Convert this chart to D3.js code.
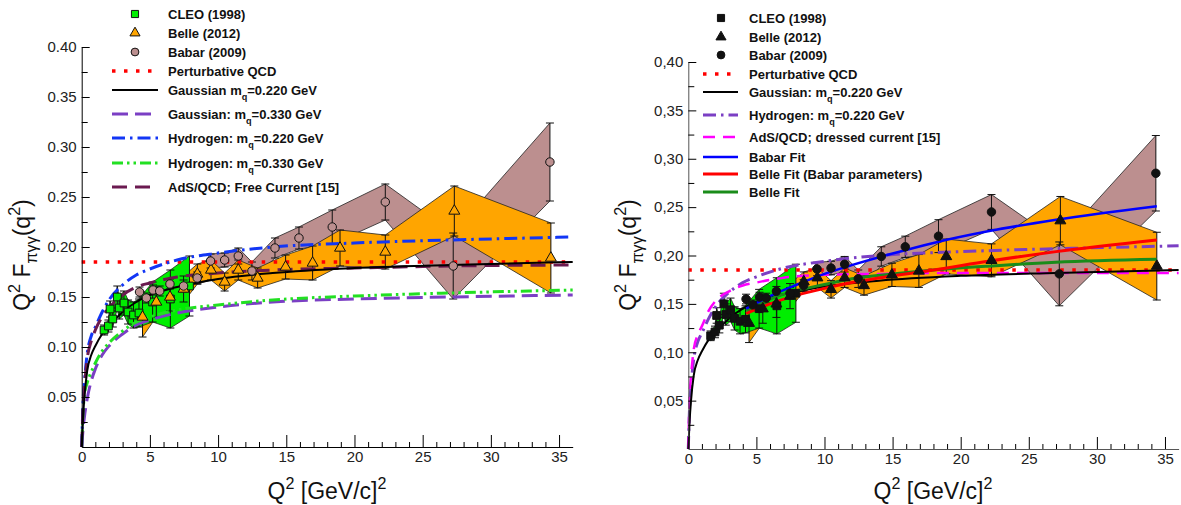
<!DOCTYPE html>
<html>
<head>
<meta charset="utf-8">
<script src="https://cdn.jsdelivr.net/npm/d3@7"></script>
<style>
body { margin: 0; background: #fff; }
text { font-family: Arial, "Liberation Sans", sans-serif; }
</style>
</head>
<body>
<svg id="chart" width="1181" height="505"></svg>
<script>
// ---- data (Q^2 in GeV^2, Q^2 F in GeV) ----
var cleoQ2  = [1.64, 1.96, 2.08, 2.28, 2.61, 2.75, 3.10, 3.40, 3.80, 4.20, 5.20, 6.50, 7.90];
var cleoF   = [0.117, 0.121, 0.138, 0.128, 0.150, 0.139, 0.144, 0.135, 0.132, 0.134, 0.145, 0.148, 0.161];
var cleoErr = [0.005, 0.006, 0.008, 0.008, 0.011, 0.011, 0.012, 0.012, 0.013, 0.014, 0.020, 0.029, 0.030];

var belleQ2  = [4.46, 5.47, 6.47, 7.47, 8.48, 9.48, 10.48, 11.48, 12.90, 14.95, 16.93, 18.94, 22.26, 27.32, 34.40];
var belleF   = [0.130, 0.145, 0.150, 0.158, 0.173, 0.177, 0.165, 0.177, 0.169, 0.180, 0.184, 0.199, 0.195, 0.236, 0.189];
var belleErr = [0.020, 0.015, 0.014, 0.013, 0.010, 0.010, 0.009, 0.010, 0.010, 0.012, 0.017, 0.018, 0.017, 0.025, 0.035];

var babarQ2  = [4.24, 4.74, 5.23, 5.72, 6.47, 7.47, 8.47, 9.45, 10.48, 11.48, 12.48, 14.17, 15.93, 18.37, 22.26, 27.24, 34.33];
var babarF   = [0.155, 0.149, 0.157, 0.156, 0.163, 0.161, 0.169, 0.186, 0.187, 0.191, 0.176, 0.199, 0.209, 0.220, 0.245, 0.181, 0.285];
var babarErr = [0.005, 0.005, 0.005, 0.005, 0.005, 0.006, 0.006, 0.007, 0.007, 0.008, 0.009, 0.010, 0.011, 0.017, 0.018, 0.033, 0.039];

// theory curves, sampled on one Q^2 grid
var gridQ2      = [0, 0.1, 0.2, 0.4, 0.7, 1, 1.5, 2, 3, 4, 5, 7, 10, 14, 20, 27, 36];
var gaussian220 = [0, 0.030, 0.050, 0.076, 0.092, 0.101, 0.113, 0.121, 0.135, 0.145, 0.152, 0.160, 0.168, 0.174, 0.179, 0.182, 0.185];
var gaussian330 = [0, 0.018, 0.030, 0.048, 0.066, 0.078, 0.092, 0.101, 0.113, 0.122, 0.127, 0.134, 0.140, 0.145, 0.148, 0.150, 0.152];
var hydrogen220 = [0, 0.045, 0.065, 0.093, 0.111, 0.120, 0.135, 0.147, 0.162, 0.172, 0.178, 0.187, 0.194, 0.200, 0.204, 0.207, 0.210];
var hydrogen330 = [0, 0.035, 0.052, 0.064, 0.075, 0.084, 0.096, 0.104, 0.116, 0.125, 0.130, 0.137, 0.142, 0.147, 0.151, 0.154, 0.157];
var adsFree     = [0, 0.040, 0.060, 0.088, 0.106, 0.117, 0.130, 0.139, 0.152, 0.160, 0.164, 0.170, 0.174, 0.177, 0.179, 0.181, 0.182];
var adsDressed  = [0, 0.055, 0.075, 0.103, 0.118, 0.127, 0.143, 0.153, 0.163, 0.169, 0.172, 0.177, 0.180, 0.181, 0.182, 0.182, 0.182];
var pqcdQ2 = [0, 36];
var pqcd   = [0.185, 0.185];

// fits (right panel)
var fitQ2         = [4.25, 6, 8, 10, 12, 15, 18, 22, 27, 34.4];
var babarFit      = [0.145, 0.158, 0.170, 0.181, 0.190, 0.202, 0.213, 0.225, 0.237, 0.251];
var belleFitBabar = [0.140, 0.150, 0.159, 0.166, 0.172, 0.179, 0.185, 0.194, 0.204, 0.216];
var belleFit      = [0.143, 0.155, 0.164, 0.170, 0.176, 0.181, 0.185, 0.189, 0.193, 0.196];

var xMajor = [0, 5, 10, 15, 20, 25, 30, 35];
var yMajor = [0.05, 0.10, 0.15, 0.20, 0.25, 0.30, 0.35, 0.40];

var svg = d3.select("#chart");

// styles
var sPqcd = {color: "#ff0000", width: 3.5, dash: "3.5,8.5", cap: "butt"};
var sGau220 = {color: "#000", width: 2, dash: null};
var sGau330 = {color: "#7b3fc4", width: 3, dash: "16,7"};
var sHyd220 = {color: "#1236f5", width: 3, dash: "13,5,2.5,5"};
var sHyd220p = {color: "#7b3fc4", width: 3, dash: "13,5,2.5,5"};
var sHyd330 = {color: "#22e022", width: 3, dash: "11,4,2.5,4,2.5,4"};
var sAdsFree = {color: "#6b1a50", width: 3, dash: "15,8"};
var sAdsDressed = {color: "#ff00ff", width: 2.5, dash: "12,8"};
var sBabarFit = {color: "#0000ff", width: 2.5, dash: null};
var sBelleFitB = {color: "#ff0000", width: 3, dash: null};
var sBelleFit = {color: "#1a8c1a", width: 3, dash: null};

function rich(sel, parts, fs, shiftSub) {
	var off = 0;
	parts.forEach(function(p) {
		var target = p.sup ? -0.42 * fs : (p.sub ? shiftSub * fs : 0);
		sel.append("tspan")
			.attr("dy", target - off)
			.style("font-size", (p.sup || p.sub) ? (fs * 0.7) + "px" : fs + "px")
			.text(p.t);
		off = target;
	});
}

function drawBand(g, x, y, q, f, e, col) {
	var pts = q.map(function(d, i) { return {q: d, lo: f[i] - e[i], hi: f[i] + e[i]}; });
	g.append("path").datum(pts)
		.attr("fill", col)
		.attr("d", d3.area().x(function(d) { return x(d.q); })
			.y0(function(d) { return y(d.lo); })
			.y1(function(d) { return y(d.hi); }));
	["lo", "hi"].forEach(function(k) {
		g.append("path").datum(pts)
			.attr("fill", "none").attr("stroke", "#222").attr("stroke-width", 0.8)
			.attr("d", d3.line().x(function(d) { return x(d.q); }).y(function(d) { return y(d[k]); }));
	});
}

function drawErrors(g, x, y, q, f, e) {
	q.forEach(function(d, i) {
		var cx = x(d), t = y(f[i] + e[i]), b = y(f[i] - e[i]);
		g.append("line").attr("x1", cx).attr("x2", cx).attr("y1", t).attr("y2", b)
			.attr("stroke", "#111").attr("stroke-width", 1);
		[t, b].forEach(function(yy) {
			g.append("line").attr("x1", cx - 4).attr("x2", cx + 4).attr("y1", yy).attr("y2", yy)
				.attr("stroke", "#111").attr("stroke-width", 1);
		});
	});
}

function drawCurve(g, x, y, q, v, s) {
	var pts = q.map(function(d, i) { return [d, v[i]]; });
	g.append("path").datum(pts)
		.attr("fill", "none")
		.attr("stroke", s.color)
		.attr("stroke-width", s.width)
		.attr("stroke-dasharray", s.dash)
		.attr("d", d3.line().curve(d3.curveMonotoneX)
			.x(function(d) { return x(d[0]); })
			.y(function(d) { return y(d[1]); }));
}

var symType = {square: d3.symbolSquare, triangle: d3.symbolTriangle, circle: d3.symbolCircle};
var symSize = {square: 60, triangle: 52, circle: 56};

function drawMarkers(g, x, y, q, f, kind, fill) {
	g.selectAll(null).data(q).enter().append("path")
		.attr("transform", function(d, i) { return "translate(" + x(d) + "," + y(f[i]) + ")"; })
		.attr("d", d3.symbol().type(symType[kind]).size(symSize[kind]))
		.attr("fill", fill)
		.attr("stroke", "#111")
		.attr("stroke-width", 1);
}

function drawPanel(p) {
	var g = svg.append("g");
	var x = d3.scaleLinear().domain([0, 36]).range([p.left, p.right]);
	var y = d3.scaleLinear().domain([0, 0.40]).range([p.bottom, p.top]);

	// error bands
	drawBand(g, x, y, babarQ2, babarF, babarErr, "#bc8f8f");
	drawBand(g, x, y, belleQ2, belleF, belleErr, "#ffa500");
	drawBand(g, x, y, cleoQ2, cleoF, cleoErr, "#00ee00");

	drawErrors(g, x, y, babarQ2, babarF, babarErr);
	drawErrors(g, x, y, belleQ2, belleF, belleErr);
	drawErrors(g, x, y, cleoQ2, cleoF, cleoErr);

	p.curves.forEach(function(c) { drawCurve(g, x, y, c.q, c.v, c.s); });

	drawMarkers(g, x, y, cleoQ2, cleoF, "square", p.fills[0]);
	drawMarkers(g, x, y, belleQ2, belleF, "triangle", p.fills[1]);
	drawMarkers(g, x, y, babarQ2, babarF, "circle", p.fills[2]);

	// axes
	var fmt = function(d) { return d3.format(".2f")(d).replace(".", p.dec); };
	var ya = g.append("g").attr("transform", "translate(" + p.left + ",0)")
		.call(d3.axisLeft(y).tickValues(yMajor).tickSize(-8).tickSizeOuter(0).tickPadding(5).tickFormat(fmt));
	var yMinor = yMajor.map(function(d) { return d - 0.025; });
	g.append("g").attr("transform", "translate(" + p.left + ",0)")
		.call(d3.axisLeft(y).tickValues(yMinor).tickSize(-6).tickSizeOuter(0).tickFormat(""))
		.select(".domain").remove();
	var xa = g.append("g").attr("transform", "translate(0," + p.bottom + ")")
		.call(d3.axisBottom(x).tickValues(xMajor).tickSize(-12).tickSizeOuter(0).tickPadding(4));
	var xMinor = d3.range(1, 36).filter(function(d) { return d % 5 != 0; });
	g.append("g").attr("transform", "translate(0," + p.bottom + ")")
		.call(d3.axisBottom(x).tickValues(xMinor).tickSize(-5).tickSizeOuter(0).tickFormat(""))
		.select(".domain").remove();
	g.selectAll(".tick text").style("font-size", "15px").style("font-family", "Arial, 'Liberation Sans', sans-serif").attr("fill", "#222");
	g.selectAll(".domain").attr("stroke", p.axisColor);

	// axis titles
	var yt = g.append("text")
		.attr("transform", "translate(" + p.yTitle[0] + "," + p.yTitle[1] + ") rotate(-90)")
		.attr("text-anchor", "middle").attr("fill", "#111");
	rich(yt, [{t: "Q"}, {t: "2", sup: true}, {t: " F"}, {t: "\u03c0\u03b3\u03b3", sub: true}, {t: "(q"}, {t: "2", sup: true}, {t: ")"}], 23, 0.3);
	var xt = g.append("text")
		.attr("x", p.xTitle[0]).attr("y", p.xTitle[1])
		.attr("text-anchor", "middle").attr("fill", "#111");
	rich(xt, [{t: "Q"}, {t: "2", sup: true}, {t: " [GeV/c]"}, {t: "2", sup: true}], 23, 0.3);

	// legend
	p.legend.forEach(function(row) {
		var cy = row.y;
		if (row.mark) {
			g.append("path")
				.attr("transform", "translate(" + p.legMark + "," + cy + ")")
				.attr("d", d3.symbol().type(symType[row.mark]).size(symSize[row.mark] * 0.85))
				.attr("fill", row.fill).attr("stroke", "#111").attr("stroke-width", 1);
		} else {
			g.append("line")
				.attr("x1", p.legLine[0]).attr("x2", p.legLine[1])
				.attr("y1", cy).attr("y2", cy)
				.attr("stroke", row.s.color)
				.attr("stroke-width", row.s.width)
				.attr("stroke-dasharray", row.s.dash);
		}
		var t = g.append("text").attr("x", p.legText).attr("y", cy + 4.5)
			.style("font-weight", "bold").attr("fill", "#111");
		rich(t, row.label, 13, 0.4);
	});
}

function mq(pre, post) {
	return [{t: pre}, {t: "q", sub: true}, {t: post}];
}

drawPanel({
	left: 81.7, right: 572.7, top: 47, bottom: 447, dec: ".", axisColor: "#000",
	fills: ["#00ee00", "#ffa500", "#bc8f8f"],
	yTitle: [30, 255], xTitle: [327, 499],
	legMark: 135, legLine: [112, 158], legText: 168,
	curves: [
		{q: pqcdQ2, v: pqcd, s: sPqcd},
		{q: gridQ2, v: gaussian330, s: sGau330},
		{q: gridQ2, v: hydrogen330, s: sHyd330},
		{q: gridQ2, v: hydrogen220, s: sHyd220},
		{q: gridQ2, v: adsFree, s: sAdsFree},
		{q: gridQ2, v: gaussian220, s: sGau220}
	],
	legend: [
		{y: 14, mark: "square", fill: "#00ee00", label: [{t: "CLEO (1998)"}]},
		{y: 33, mark: "triangle", fill: "#ffa500", label: [{t: "Belle (2012)"}]},
		{y: 52, mark: "circle", fill: "#bc8f8f", label: [{t: "Babar (2009)"}]},
		{y: 71, s: sPqcd, label: [{t: "Perturbative QCD"}]},
		{y: 90, s: sGau220, label: mq("Gaussian m", "=0.220 GeV")},
		{y: 114, s: sGau330, label: mq("Gaussian: m", "=0.330 GeV")},
		{y: 138, s: sHyd220, label: mq("Hydrogen: m", "=0.220 GeV")},
		{y: 163, s: sHyd330, label: mq("Hydrogen: m", "=0.330 GeV")},
		{y: 187, s: sAdsFree, label: [{t: "AdS/QCD; Free Current [15]"}]}
	]
});

drawPanel({
	left: 688.3, right: 1178.6, top: 62, bottom: 449, dec: ",", axisColor: "#555",
	fills: ["#111", "#111", "#111"],
	yTitle: [636, 255], xTitle: [933, 499],
	legMark: 721, legLine: [703, 738], legText: 749,
	curves: [
		{q: pqcdQ2, v: pqcd, s: sPqcd},
		{q: gridQ2, v: hydrogen220, s: sHyd220p},
		{q: gridQ2, v: adsDressed, s: sAdsDressed},
		{q: gridQ2, v: gaussian220, s: sGau220},
		{q: fitQ2, v: belleFit, s: sBelleFit},
		{q: fitQ2, v: belleFitBabar, s: sBelleFitB},
		{q: fitQ2, v: babarFit, s: sBabarFit}
	],
	legend: [
		{y: 18, mark: "square", fill: "#111", label: [{t: "CLEO (1998)"}]},
		{y: 37, mark: "triangle", fill: "#111", label: [{t: "Belle (2012)"}]},
		{y: 55, mark: "circle", fill: "#111", label: [{t: "Babar (2009)"}]},
		{y: 74, s: sPqcd, label: [{t: "Perturbative QCD"}]},
		{y: 92, s: sGau220, label: mq("Gaussian: m", "=0.220 GeV")},
		{y: 115, s: sHyd220p, label: mq("Hydrogen: m", "=0.220 GeV")},
		{y: 137, s: sAdsDressed, label: [{t: "AdS/QCD; dressed current [15]"}]},
		{y: 157, s: sBabarFit, label: [{t: "Babar Fit"}]},
		{y: 174, s: sBelleFitB, label: [{t: "Belle Fit (Babar parameters)"}]},
		{y: 192, s: sBelleFit, label: [{t: "Belle Fit"}]}
	]
});
</script>
</body>
</html>
